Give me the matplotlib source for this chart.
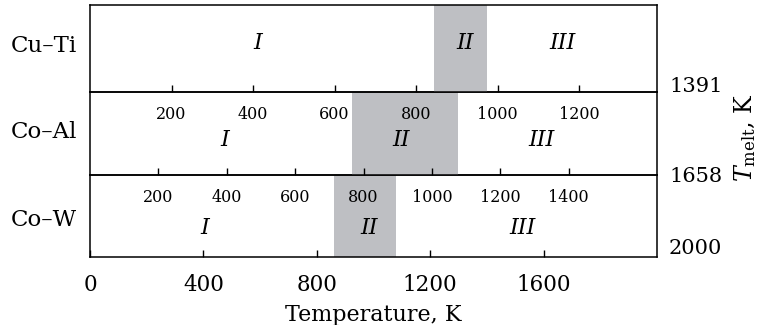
import matplotlib
matplotlib.use("Agg")
import matplotlib.pyplot as plt

plt.rcParams["font.family"] = "DejaVu Serif"
plt.rcParams["mathtext.fontset"] = "dejavuserif"

systems = ["Cu\u2013Ti", "Co\u2013Al", "Co\u2013W"]
t_melt = [1391, 1658, 2000]
# temperature band of regime II for each system
band_lo = [845, 765, 860]
band_hi = [975, 1075, 1080]
ticks = [
    [200, 400, 600, 800, 1000, 1200],
    [200, 400, 600, 800, 1000, 1200, 1400],
    [0, 400, 800, 1200, 1600],
]
# label positions of regimes I, II, III (temperature) and their height in the panel
regime_x = [[412, 920, 1160], [395, 909, 1319], [406, 984, 1527]]
regime_y = [0.56, 0.42, 0.35]
regimes = ["I", "II", "III"]

fig = plt.figure(figsize=(7.61, 3.25), dpi=100)
left, width = 90 / 761, 567 / 761
rows = [(5, 92), (92, 175), (175, 257)]
melt_y = [87, 177, 248]
name_y = [46, 132, 220]

axes = []
for i, (top, bot) in enumerate(rows):
    ax = fig.add_axes([left, 1 - bot / 325, width, (bot - top) / 325])
    ax.set_zorder(3 - i)
    ax.patch.set_visible(False)
    ax.set_xlim(0, t_melt[i])
    ax.set_ylim(0, 1)
    ax.axvspan(band_lo[i], band_hi[i], color="#bebfc3", lw=0, zorder=0)
    ax.set_yticks([])
    ax.set_xticks(ticks[i])
    pad = 10 if i < 2 else 12
    size = 11.5 if i < 2 else 15.5
    ax.tick_params(axis="x", direction="in", length=5, width=1, pad=pad, labelsize=size)
    for s in ax.spines.values():
        s.set_linewidth(1.1)
    for txt, x in zip(regimes, regime_x[i]):
        ax.text(x, regime_y[i], txt, ha="center", va="center", fontsize=16, fontstyle="italic")
    ax.text(-13 / 567, 1 - (name_y[i] - top) / (bot - top), systems[i], transform=ax.transAxes,
            ha="right", va="center", fontsize=16.5)
    ax.text(1 + 12 / 567, 1 - (melt_y[i] - top) / (bot - top), str(t_melt[i]), transform=ax.transAxes,
            ha="left", va="center", fontsize=15)
    axes.append(ax)

axes[-1].set_xlabel("Temperature, K", fontsize=16, labelpad=6)
fig.text(745 / 761, 1 - 138 / 325, r"$T_{\rm melt}$, K", rotation=90, ha="center", va="center", fontsize=17)

fig.savefig("out.png", dpi=100)
